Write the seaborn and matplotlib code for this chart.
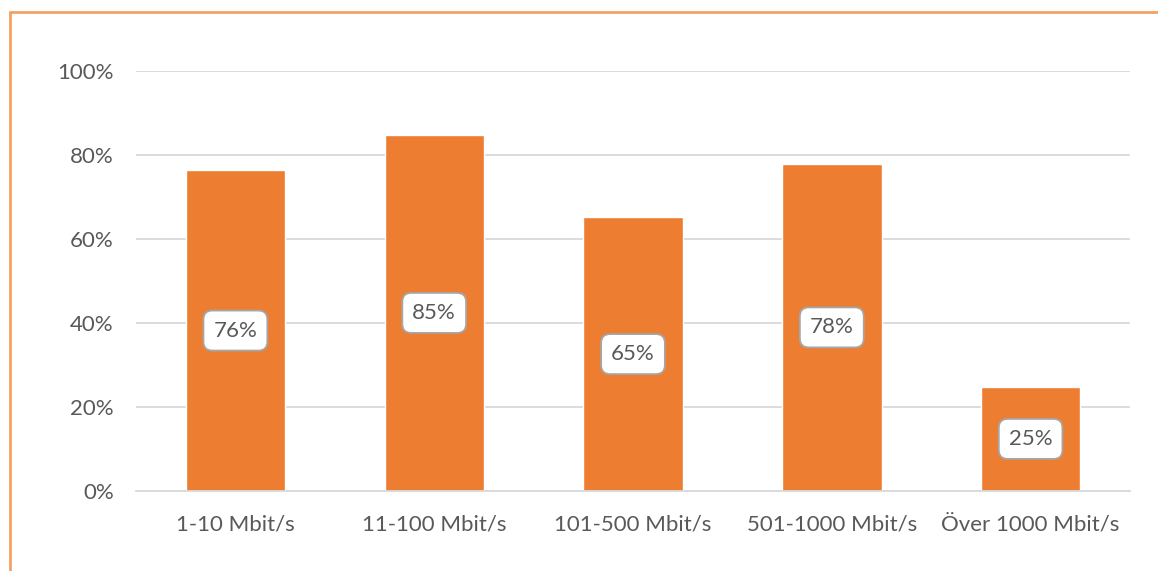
import matplotlib
matplotlib.use("Agg")
import matplotlib.pyplot as plt
from matplotlib.lines import Line2D
import seaborn as sns
import pandas as pd

# ── Data ─────────────────────────────────────────────────────────────────────
categories = ['1-10 Mbit/s', '11-100 Mbit/s', '101-500 Mbit/s',
              '501-1000 Mbit/s', 'Över 1000 Mbit/s']
shares = [0.764, 0.848, 0.652, 0.779, 0.248]
ticks = [0, 0.2, 0.4, 0.6, 0.8, 1.0]
tick_labels = ['0%', '20%', '40%', '60%', '80%', '100%']

ORANGE = '#ED7D31'
TEXT = '#595959'
GRID = '#D9D9D9'

sns.set_theme(style='white')
plt.rcParams['font.family'] = ['Lato', 'DejaVu Sans']

df = pd.DataFrame({'cat': categories, 'val': shares})

fig = plt.figure(figsize=(11.58, 5.71), dpi=100)
ax = fig.add_axes([136 / 1158, 1 - 491 / 571, (1130 - 136) / 1158, (491 - 71) / 571])

sns.barplot(data=df, x='cat', y='val', color=ORANGE, saturation=1,
            width=0.5, ax=ax, zorder=3)

ax.set_ylim(0, 1.0)
ax.set_xlim(-0.5, len(categories) - 0.5)
ax.set_yticks(ticks)
ax.set_yticklabels(tick_labels)
ax.set_xlabel('')
ax.set_ylabel('')
ax.tick_params(axis='both', colors=TEXT, labelsize=16, length=0)
ax.tick_params(axis='y', pad=16)
ax.tick_params(axis='x', pad=17)
for t in ax.get_xticklabels() + ax.get_yticklabels():
    t.set_color(TEXT)

ax.yaxis.grid(True, color=GRID, lw=1.3, zorder=0)
ax.set_axisbelow(True)
for s in ['top', 'right', 'left']:
    ax.spines[s].set_visible(False)
ax.spines['bottom'].set_color(GRID)
ax.spines['bottom'].set_linewidth(1.3)
ax.spines['bottom'].set_zorder(4)

# value labels in rounded boxes, centered in each bar
for i, v in enumerate(shares):
    ax.text(i, v / 2, f'{round(v * 100):.0f}%', ha='center', va='center',
            fontsize=16, color=TEXT, zorder=5,
            bbox=dict(boxstyle='round,pad=0.45,rounding_size=0.4',
                      facecolor='white', edgecolor='#A6A6A6', lw=1.3))

# orange frame (top and left edges visible)
fig.add_artist(Line2D([10 / 1158, 10 / 1158], [1 - 12 / 571, 0], color='#F4A263',
                      lw=2, transform=fig.transFigure))
fig.add_artist(Line2D([10 / 1158, 1], [1 - 12 / 571, 1 - 12 / 571], color='#F4A263',
                      lw=2, transform=fig.transFigure))

fig.savefig('out.png', dpi=100)
